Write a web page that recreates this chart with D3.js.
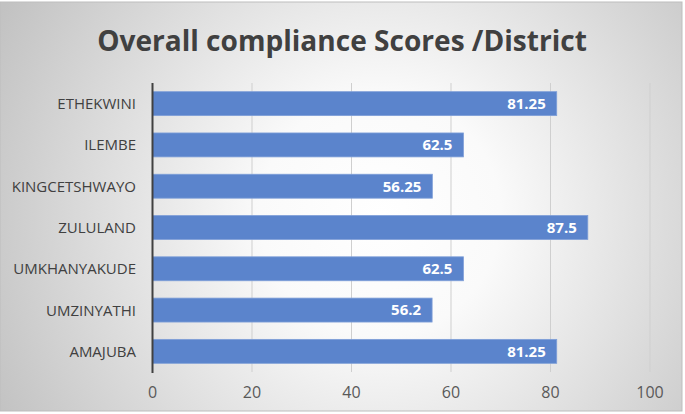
<!DOCTYPE html>
<html><head><meta charset="utf-8">
<script src="https://cdn.jsdelivr.net/npm/d3@7"></script>
<style>html,body{margin:0;padding:0;background:#fff;}svg{display:block;}</style>
</head><body>
<svg id="chart" width="685" height="414"></svg>
<script>
const categories = ["ETHEKWINI","ILEMBE","KINGCETSHWAYO","ZULULAND","UMKHANYAKUDE","UMZINYATHI","AMAJUBA"];
const scores = [81.25, 62.5, 56.25, 87.5, 62.5, 56.2, 81.25];
const xTicks = [0, 20, 40, 60, 80, 100];
const title = "Overall compliance Scores /District";

const data = categories.map((c, i) => ({cat: c, val: scores[i]}));
const svg = d3.select("#chart");

const defs = svg.append("defs");
const grad = defs.append("radialGradient").attr("id","bg")
  .attr("gradientUnits","userSpaceOnUse").attr("cx",380).attr("cy",215).attr("r",430);
grad.append("stop").attr("offset","0").attr("stop-color","#ffffff");
grad.append("stop").attr("offset","0.28").attr("stop-color","#fafafa");
grad.append("stop").attr("offset","1").attr("stop-color","#c2c2c2");

svg.append("rect").attr("x",0).attr("y",2).attr("width",682).attr("height",409)
  .attr("fill","url(#bg)").attr("stroke","#bdbdbd").attr("stroke-width",1);

const x = d3.scaleLinear().domain([0,100]).range([152.5, 650]);
const y = d3.scaleBand().domain(categories).range([83, 372]).paddingInner(0.42).paddingOuter(0.21);

svg.append("g").selectAll("line").data(xTicks.filter(t => t > 0)).join("line")
  .attr("x1", d => x(d)).attr("x2", d => x(d))
  .attr("y1", 83).attr("y2", 372)
  .attr("stroke","#cfcfcf").attr("stroke-width",1);

svg.append("g").selectAll("rect").data(data).join("rect")
  .attr("x", x(0)).attr("y", d => y(d.cat))
  .attr("width", d => x(d.val) - x(0)).attr("height", y.bandwidth())
  .attr("fill","#5b84cc").attr("stroke","#7f9fd8").attr("stroke-width",0.8);

svg.append("g").selectAll("text").data(data).join("text")
  .attr("x", d => x(d.val) - 11).attr("y", d => y(d.cat) + y.bandwidth()/2)
  .attr("dy","0.36em").attr("text-anchor","end")
  .attr("font-family","Open Sans").attr("font-weight","bold").attr("font-size",15)
  .attr("fill","#ffffff").text(d => d.val);

svg.append("line").attr("x1", x(0)).attr("x2", x(0)).attr("y1", 83).attr("y2", 373)
  .attr("stroke","#404040").attr("stroke-width",2);

svg.append("g").selectAll("text").data(categories).join("text")
  .attr("x", 136).attr("y", d => y(d) + y.bandwidth()/2)
  .attr("dy","0.37em").attr("text-anchor","end")
  .attr("font-family","Open Sans").attr("font-size",15)
  .attr("fill","#404040").text(d => d);

svg.append("g").selectAll("text").data(xTicks).join("text")
  .attr("x", d => x(d)).attr("y", 398).attr("text-anchor","middle")
  .attr("font-family","Open Sans").attr("font-size",16)
  .attr("fill","#595959").text(d => d);

const t = svg.append("text").attr("x", 342).attr("y", 51).attr("text-anchor","middle")
  .attr("font-family","Open Sans").attr("font-weight","bold").attr("font-size",30)
  .attr("fill","#404040").text(title);
const tw = t.node().getComputedTextLength();
t.attr("font-size", 30 * 490 / tw);
</script>
</body></html>
